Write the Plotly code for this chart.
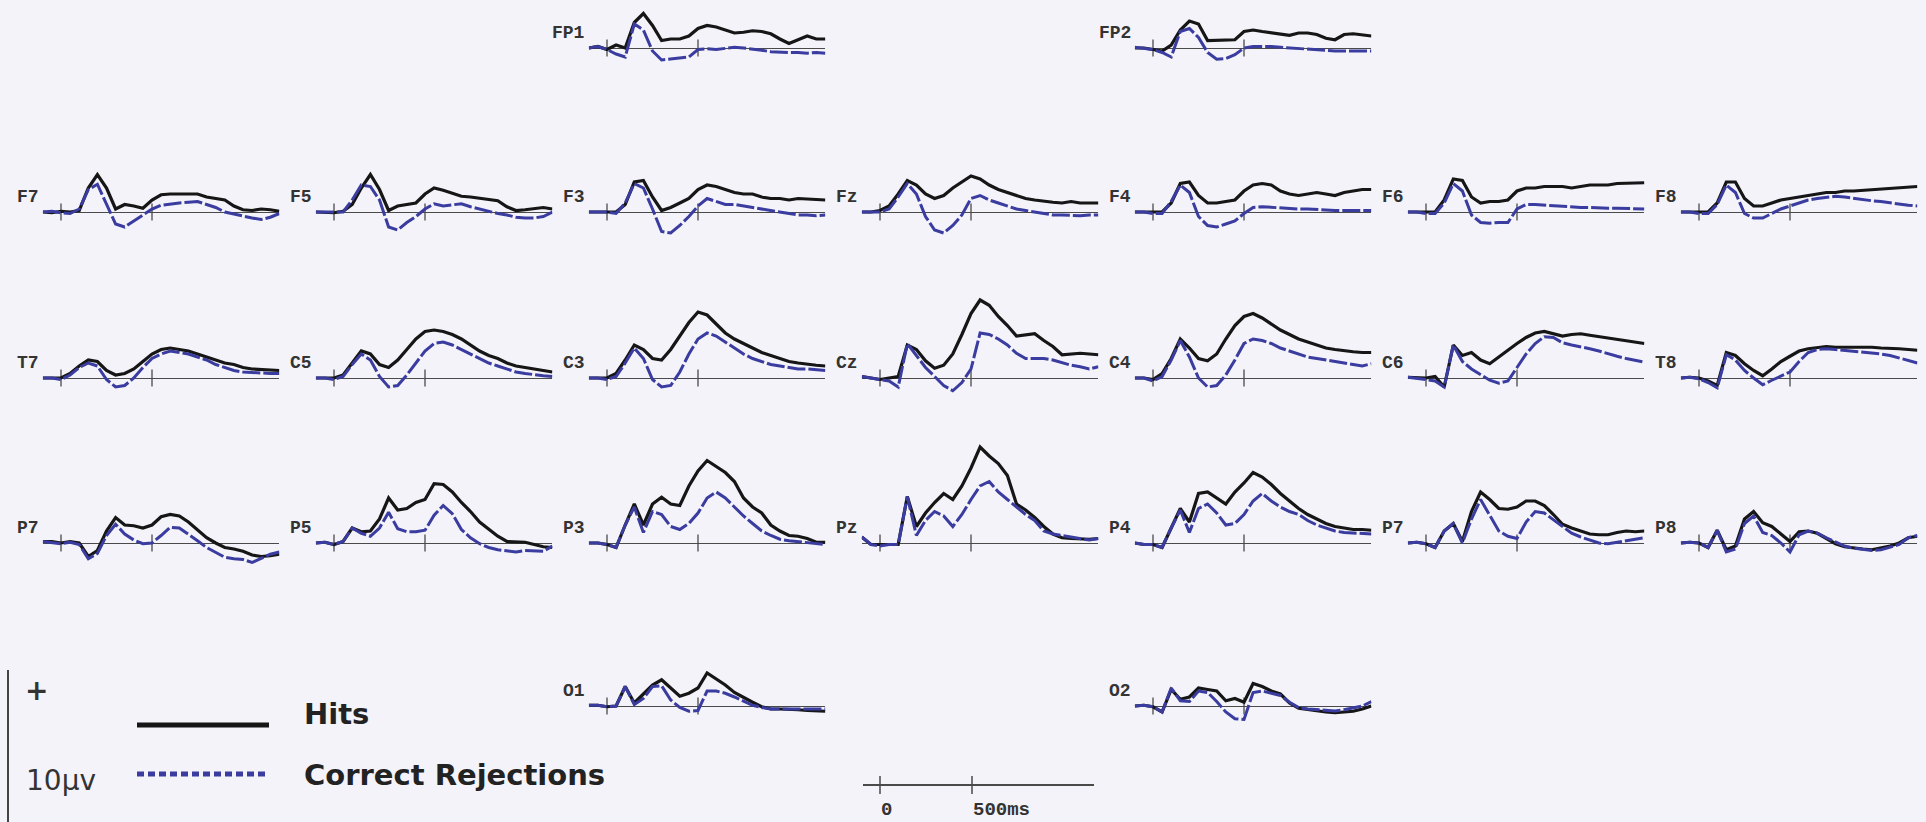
import plotly.graph_objects as go

# ---------------------------------------------------------------------------
# Grand-average ERPs (µV) sampled every 50 ms, Hits vs Correct Rejections
# ---------------------------------------------------------------------------
TIME_MS = [-100, -50, 0, 50, 100, 150, 200, 250, 300, 350, 400, 450, 500, 550,
           600, 650, 700, 750, 800, 850, 900, 950, 1000, 1050, 1100, 1150, 1200]
TICK_MS = [0, 500]
SCALE_LABELS = ["0", "500ms"]

HITS_FP1 = [0, 0.1, -0.1, 0.2, 0.0, 1.7, 2.3, 1.5, 0.5, 0.6, 0.6, 0.8, 1.3, 1.5, 1.4, 1.2, 1.0, 1.05, 1.15, 1.1, 0.95, 0.6, 0.3, 0.55, 0.8, 0.6, 0.6]
CR_FP1 = [0, 0.1, -0.1, -0.4, -0.6, 1.6, 1.2, -0.2, -0.8, -0.75, -0.7, -0.6, -0.1, -0.05, -0.1, 0.0, 0.05, 0.0, -0.05, -0.15, -0.25, -0.3, -0.3, -0.3, -0.35, -0.3, -0.35]
HITS_FP2 = [0, 0, -0.1, -0.2, 0.2, 1.2, 1.8, 1.6, 0.5, 0.5, 0.5, 0.55, 1.1, 1.2, 1.1, 1.0, 0.9, 0.85, 1.0, 1.0, 0.9, 0.65, 0.55, 0.9, 0.95, 0.85, 0.8]
CR_FP2 = [0.05, 0, -0.1, -0.3, -0.6, 1.1, 1.3, 0.7, -0.3, -0.75, -0.7, -0.45, 0.0, 0.1, 0.12, 0.1, 0.05, 0.0, -0.05, -0.1, -0.15, -0.2, -0.2, -0.2, -0.2, -0.25, -0.2]

HITS_F7 = [0, -0.05, 0.05, 0.0, 0.1, 1.6, 2.5, 1.6, 0.2, 0.5, 0.4, 0.25, 0.8, 1.15, 1.2, 1.2, 1.2, 1.2, 1.0, 0.9, 0.8, 0.4, 0.15, 0.1, 0.2, 0.15, 0.05]
CR_F7 = [0, 0.05, -0.05, -0.1, 0.2, 1.5, 1.85, 0.5, -0.8, -1.0, -0.6, -0.2, 0.2, 0.45, 0.55, 0.6, 0.65, 0.7, 0.5, 0.3, 0.0, -0.15, -0.3, -0.4, -0.5, -0.35, -0.1]
HITS_F5 = [0, 0, -0.05, 0.05, 0.5, 1.6, 2.5, 1.5, 0.1, 0.4, 0.5, 0.6, 1.2, 1.6, 1.45, 1.25, 1.05, 1.0, 0.9, 0.85, 0.75, 0.35, 0.1, 0.15, 0.25, 0.3, 0.2]
CR_F5 = [0, 0, 0, 0.0, 0.8, 1.8, 1.7, 0.8, -1.0, -1.2, -0.7, -0.3, 0.2, 0.55, 0.4, 0.5, 0.55, 0.35, 0.2, 0.0, -0.1, -0.2, -0.35, -0.4, -0.4, -0.3, 0.0]
HITS_F3 = [0, 0, 0, 0, 0.5, 2.0, 2.1, 1.0, 0.1, 0.3, 0.6, 0.9, 1.5, 1.8, 1.7, 1.5, 1.3, 1.2, 1.2, 1.0, 0.9, 0.9, 0.8, 0.9, 0.85, 0.8, 0.8]
CR_F3 = [0, 0, 0, -0.1, 0.6, 1.9, 1.6, 0.2, -1.3, -1.4, -0.9, -0.3, 0.4, 0.9, 0.7, 0.5, 0.5, 0.4, 0.3, 0.2, 0.1, 0.0, -0.1, -0.2, -0.2, -0.25, -0.2]
HITS_FZ = [0, 0, 0.1, 0.4, 1.2, 2.1, 1.8, 1.2, 0.9, 1.1, 1.6, 2.0, 2.4, 2.2, 1.8, 1.5, 1.3, 1.1, 0.9, 0.8, 0.7, 0.65, 0.6, 0.7, 0.6, 0.6, 0.6]
CR_FZ = [0, 0, 0, 0.2, 1.0, 1.9, 1.2, -0.3, -1.2, -1.4, -0.9, -0.2, 0.9, 1.1, 0.8, 0.6, 0.4, 0.2, 0.1, 0.0, -0.1, -0.2, -0.2, -0.25, -0.25, -0.2, -0.2]
HITS_F4 = [0, 0, 0, 0, 0.6, 1.9, 2.0, 1.1, 0.6, 0.6, 0.7, 0.8, 1.4, 1.8, 1.9, 1.8, 1.4, 1.2, 1.1, 1.2, 1.3, 1.2, 1.1, 1.3, 1.4, 1.5, 1.5]
CR_F4 = [0, 0, -0.1, -0.1, 0.7, 1.8, 1.3, -0.3, -0.9, -1.0, -0.8, -0.6, -0.1, 0.3, 0.35, 0.3, 0.3, 0.25, 0.2, 0.2, 0.15, 0.15, 0.1, 0.1, 0.1, 0.1, 0.1]
HITS_F6 = [0, 0, 0, 0, 0.8, 2.2, 2.1, 1.0, 0.6, 0.7, 0.7, 0.8, 1.4, 1.6, 1.6, 1.7, 1.7, 1.7, 1.6, 1.7, 1.8, 1.8, 1.8, 1.9, 1.9, 1.9, 1.95]
CR_F6 = [0, 0, -0.1, -0.1, 0.6, 1.9, 1.4, -0.2, -0.7, -0.75, -0.7, -0.7, 0.2, 0.5, 0.5, 0.45, 0.4, 0.4, 0.35, 0.3, 0.3, 0.25, 0.25, 0.25, 0.25, 0.2, 0.2]
HITS_F8 = [0, 0, 0, 0, 0.6, 2.0, 2.0, 0.9, 0.4, 0.4, 0.6, 0.8, 0.9, 1.0, 1.1, 1.2, 1.3, 1.3, 1.4, 1.4, 1.45, 1.5, 1.5, 1.6, 1.65, 1.7, 1.7]
CR_F8 = [0, 0, -0.1, -0.1, 0.5, 1.8, 1.3, -0.1, -0.4, -0.4, -0.1, 0.2, 0.4, 0.6, 0.8, 0.9, 1.0, 1.05, 1.0, 0.9, 0.8, 0.75, 0.7, 0.6, 0.5, 0.45, 0.4]

HITS_T7 = [0, 0, 0, 0.3, 0.8, 1.2, 1.1, 0.5, 0.2, 0.3, 0.6, 1.1, 1.6, 1.9, 2.0, 1.9, 1.8, 1.6, 1.4, 1.2, 1.0, 0.9, 0.7, 0.6, 0.55, 0.5, 0.5]
CR_T7 = [0, 0, -0.1, 0.2, 0.7, 1.0, 0.8, -0.1, -0.6, -0.5, 0.0, 0.7, 1.3, 1.6, 1.8, 1.7, 1.6, 1.4, 1.2, 0.9, 0.7, 0.5, 0.4, 0.35, 0.3, 0.3, 0.3]
HITS_C5 = [0, 0, 0, 0.2, 1.0, 1.8, 1.6, 0.9, 0.7, 1.2, 1.9, 2.6, 3.1, 3.2, 3.1, 2.9, 2.6, 2.2, 1.8, 1.5, 1.3, 1.0, 0.8, 0.7, 0.6, 0.5, 0.4]
CR_C5 = [0, 0, -0.1, 0.1, 0.9, 1.6, 1.2, 0.1, -0.6, -0.5, 0.2, 1.0, 1.8, 2.3, 2.4, 2.2, 1.9, 1.6, 1.3, 1.0, 0.8, 0.6, 0.4, 0.3, 0.2, 0.15, 0.1]
HITS_C3 = [0, 0, 0, 0.3, 1.2, 2.2, 1.9, 1.3, 1.2, 1.9, 2.8, 3.7, 4.4, 4.2, 3.6, 3.0, 2.6, 2.3, 2.0, 1.7, 1.5, 1.3, 1.1, 1.0, 0.9, 0.85, 0.8]
CR_C3 = [0, 0, -0.1, 0.1, 1.0, 2.0, 1.3, -0.1, -0.6, -0.5, 0.4, 1.6, 2.6, 3.0, 2.8, 2.4, 2.0, 1.6, 1.3, 1.1, 0.9, 0.8, 0.7, 0.6, 0.6, 0.55, 0.5]
HITS_CZ = [0.1, 0.0, -0.1, 0.0, 0.1, 2.2, 1.9, 1.15, 0.65, 0.85, 1.6, 2.9, 4.3, 5.2, 4.85, 4.1, 3.5, 2.8, 2.85, 2.95, 2.5, 2.1, 1.55, 1.6, 1.65, 1.6, 1.55]
CR_CZ = [0.1, 0.0, -0.1, -0.2, -0.6, 2.3, 1.5, 0.7, 0.1, -0.5, -0.85, -0.3, 0.6, 3.0, 2.9, 2.6, 2.2, 1.65, 1.3, 1.3, 1.3, 1.2, 1.0, 0.85, 0.75, 0.6, 0.75]
HITS_C4 = [0, 0, -0.1, 0.3, 1.3, 2.6, 2.0, 1.3, 1.15, 1.6, 2.6, 3.5, 4.1, 4.3, 4.0, 3.6, 3.2, 2.9, 2.6, 2.4, 2.2, 2.0, 1.9, 1.8, 1.75, 1.7, 1.7]
CR_C4 = [0, 0, -0.2, 0.1, 1.2, 2.5, 1.4, 0.0, -0.6, -0.5, 0.2, 1.2, 2.3, 2.6, 2.5, 2.3, 2.0, 1.8, 1.6, 1.4, 1.3, 1.2, 1.1, 1.0, 0.9, 0.8, 0.95]
HITS_C6 = [0.05, 0.05, 0.0, 0.1, -0.6, 2.2, 1.5, 1.7, 1.2, 0.95, 1.4, 1.9, 2.3, 2.7, 3.0, 3.1, 2.95, 2.8, 2.9, 2.95, 2.85, 2.75, 2.7, 2.6, 2.5, 2.4, 2.3]
CR_C6 = [0.05, 0.0, -0.1, -0.2, -0.6, 2.2, 1.1, 0.6, 0.2, -0.15, -0.35, -0.2, 0.7, 1.6, 2.3, 2.75, 2.7, 2.35, 2.2, 2.1, 1.95, 1.8, 1.6, 1.45, 1.3, 1.15, 1.05]
HITS_T8 = [0.0, 0.05, 0.0, -0.2, -0.5, 1.7, 1.5, 0.95, 0.5, 0.15, 0.6, 1.1, 1.45, 1.8, 1.95, 2.05, 2.1, 2.05, 2.05, 2.1, 2.1, 2.05, 2.0, 2.0, 1.95, 1.9, 1.85]
CR_T8 = [0.0, 0.05, -0.05, -0.3, -0.65, 1.55, 1.2, 0.5, 0.0, -0.45, -0.15, 0.15, 0.4, 1.1, 1.7, 1.9, 1.95, 1.9, 1.85, 1.8, 1.75, 1.7, 1.6, 1.5, 1.35, 1.15, 1.0]

HITS_P7 = [0.1, 0.1, 0.0, 0.1, 0.0, -0.9, -0.5, 0.8, 1.7, 1.2, 1.15, 1.0, 1.2, 1.75, 1.9, 1.8, 1.4, 0.9, 0.35, 0.0, -0.3, -0.4, -0.55, -0.8, -0.9, -0.85, -0.75]
CR_P7 = [0.1, 0.05, -0.05, 0.05, -0.1, -1.05, -0.7, 0.5, 1.25, 0.6, 0.2, -0.05, 0.0, 0.5, 1.05, 1.0, 0.6, 0.15, -0.3, -0.65, -0.95, -1.05, -1.1, -1.3, -1.0, -0.75, -0.6]
HITS_P5 = [0, 0.05, -0.1, 0.1, 1.0, 0.75, 0.8, 1.6, 3.0, 2.2, 2.3, 2.7, 2.9, 3.95, 3.9, 3.4, 2.7, 2.1, 1.4, 0.9, 0.45, 0.1, 0.05, 0.05, -0.1, -0.25, -0.3]
CR_P5 = [0, 0.05, -0.1, 0.1, 1.0, 0.65, 0.45, 1.0, 2.05, 0.95, 0.75, 0.75, 0.85, 1.85, 2.5, 1.95, 0.9, 0.35, -0.05, -0.3, -0.45, -0.55, -0.6, -0.5, -0.55, -0.55, -0.2]
HITS_P3 = [0, 0.0, -0.1, -0.3, 1.2, 2.6, 1.2, 2.6, 3.05, 2.6, 2.5, 3.8, 4.8, 5.5, 5.1, 4.7, 4.1, 3.0, 2.4, 2.0, 1.2, 0.8, 0.5, 0.45, 0.3, 0.05, 0.05]
CR_P3 = [0, 0.0, -0.1, -0.3, 1.2, 2.4, 0.7, 2.1, 1.9, 1.1, 0.9, 1.3, 2.0, 3.0, 3.4, 3.0, 2.4, 1.8, 1.3, 0.8, 0.5, 0.25, 0.15, 0.1, 0.05, -0.05, -0.1]
HITS_PZ = [0.4, -0.1, -0.1, -0.1, -0.1, 3.1, 1.1, 2.0, 2.7, 3.3, 2.9, 3.8, 5.0, 6.4, 5.8, 5.3, 4.5, 2.6, 2.2, 1.7, 1.1, 0.6, 0.35, 0.3, 0.25, 0.25, 0.3]
CR_PZ = [0.4, -0.1, -0.2, -0.1, -0.1, 3.1, 0.5, 1.5, 2.1, 1.8, 1.1, 1.9, 2.9, 3.8, 4.1, 3.4, 2.9, 2.4, 1.9, 1.5, 0.8, 0.6, 0.5, 0.35, 0.25, 0.2, 0.3]
HITS_P4 = [0.0, -0.1, -0.1, -0.3, 1.0, 2.3, 1.4, 3.3, 3.4, 3.0, 2.6, 3.4, 4.0, 4.7, 4.4, 3.9, 3.3, 2.8, 2.3, 1.9, 1.6, 1.3, 1.1, 1.0, 0.9, 0.9, 0.85]
CR_P4 = [0.0, -0.1, -0.1, -0.3, 1.0, 2.2, 0.7, 2.3, 2.6, 2.0, 1.2, 1.3, 1.9, 2.8, 3.3, 2.8, 2.4, 2.1, 1.9, 1.5, 1.2, 1.0, 0.8, 0.7, 0.65, 0.6, 0.6]
HITS_P6 = [0.0, 0.05, -0.05, -0.3, 0.8, 1.3, 0.1, 2.1, 3.4, 2.9, 2.3, 2.25, 2.4, 2.8, 2.8, 2.5, 1.9, 1.25, 1.0, 0.8, 0.6, 0.55, 0.55, 0.7, 0.8, 0.75, 0.8]
CR_P6 = [0.0, 0.05, -0.05, -0.3, 0.8, 1.3, 0.0, 1.6, 2.9, 1.8, 0.8, 0.45, 0.3, 1.4, 2.1, 2.0, 1.55, 1.05, 0.65, 0.4, 0.2, 0.0, -0.05, 0.05, 0.2, 0.3, 0.35]
HITS_P8 = [0.0, 0.05, 0.0, -0.3, 0.85, -0.45, -0.2, 1.6, 2.1, 1.35, 1.1, 0.6, 0.1, 0.75, 0.8, 0.65, 0.3, -0.05, -0.25, -0.35, -0.4, -0.45, -0.35, -0.2, 0.0, 0.35, 0.45]
CR_P8 = [0.0, 0.05, 0.0, -0.3, 0.85, -0.6, -0.4, 1.3, 1.8, 0.7, 0.5, 0.0, -0.6, 0.55, 0.8, 0.65, 0.35, 0.05, -0.2, -0.35, -0.45, -0.5, -0.45, -0.3, -0.1, 0.35, 0.5]

HITS_O1 = [0.05, 0.05, -0.05, 0.0, 1.3, 0.2, 0.8, 1.4, 1.75, 1.2, 0.65, 0.85, 1.2, 2.2, 1.8, 1.4, 0.9, 0.55, 0.25, -0.05, -0.2, -0.2, -0.2, -0.25, -0.3, -0.3, -0.35]
CR_O1 = [0.05, 0.05, -0.05, 0.0, 1.3, 0.1, 0.5, 1.3, 1.35, 0.4, -0.1, -0.35, -0.3, 1.0, 1.0, 0.85, 0.6, 0.3, 0.05, -0.1, -0.2, -0.2, -0.2, -0.2, -0.2, -0.2, -0.2]
HITS_O2 = [0.0, 0.05, -0.05, -0.4, 1.1, 0.45, 0.6, 1.2, 1.1, 1.0, 0.35, 0.5, 0.25, 1.5, 1.3, 1.0, 0.8, 0.2, -0.15, -0.25, -0.35, -0.4, -0.45, -0.4, -0.35, -0.2, 0.0]
CR_O2 = [0.0, 0.05, -0.05, -0.4, 1.2, 0.35, 0.3, 1.0, 0.9, 0.3, -0.4, -0.85, -0.9, 0.9, 1.0, 0.85, 0.7, 0.25, -0.1, -0.2, -0.25, -0.3, -0.33, -0.25, -0.15, 0.0, 0.3]

# (label, hits, correct rejections, grid row, grid column)
PANELS = [
    ("FP1", HITS_FP1, CR_FP1, 0, 2), ("FP2", HITS_FP2, CR_FP2, 0, 4),
    ("F7", HITS_F7, CR_F7, 1, 0), ("F5", HITS_F5, CR_F5, 1, 1),
    ("F3", HITS_F3, CR_F3, 1, 2), ("Fz", HITS_FZ, CR_FZ, 1, 3),
    ("F4", HITS_F4, CR_F4, 1, 4), ("F6", HITS_F6, CR_F6, 1, 5),
    ("F8", HITS_F8, CR_F8, 1, 6),
    ("T7", HITS_T7, CR_T7, 2, 0), ("C5", HITS_C5, CR_C5, 2, 1),
    ("C3", HITS_C3, CR_C3, 2, 2), ("Cz", HITS_CZ, CR_CZ, 2, 3),
    ("C4", HITS_C4, CR_C4, 2, 4), ("C6", HITS_C6, CR_C6, 2, 5),
    ("T8", HITS_T8, CR_T8, 2, 6),
    ("P7", HITS_P7, CR_P7, 3, 0), ("P5", HITS_P5, CR_P5, 3, 1),
    ("P3", HITS_P3, CR_P3, 3, 2), ("Pz", HITS_PZ, CR_PZ, 3, 3),
    ("P4", HITS_P4, CR_P4, 3, 4), ("P7", HITS_P6, CR_P6, 3, 5),
    ("P8", HITS_P8, CR_P8, 3, 6),
    ("O1", HITS_O1, CR_O1, 4, 2), ("O2", HITS_O2, CR_O2, 4, 4),
]

# ---------------------------------------------------------------------------
# Page geometry (pixels) and styling
# ---------------------------------------------------------------------------
W, H = 1926, 822
PX_PER_MS = 0.182
PX_PER_UV = 15.0
COL_ZERO_PX = [61 + 273 * c for c in range(7)]
ROW_BASE_PX = [48, 212, 378, 543, 706]

BG = "#f3f3f9"
HIT_COLOR = "#161616"
CR_COLOR = "#3a3ca0"
AXIS_COLOR = "#4a4a4a"
LABEL_FONT = dict(family="Liberation Mono", size=18, color="#333333")
LEGEND_FONT = "DejaVu Sans"


def px_x(p):
    return p / W


def px_y(p):
    return 1 - p / H


def axis_names(i):
    suffix = "" if i == 1 else str(i)
    return "x" + suffix, "y" + suffix, "xaxis" + suffix, "yaxis" + suffix


fig = go.Figure()
axes = {}
annotations = []
t_min, t_max = TIME_MS[0], TIME_MS[-1]

for i, (label, hits, cr, row, col) in enumerate(PANELS, start=1):
    xa, ya, xkey, ykey = axis_names(i)
    zero = COL_ZERO_PX[col]
    base = ROW_BASE_PX[row]
    hi = min(7.0, base / PX_PER_UV)
    lo = -3.0
    axes[xkey] = dict(domain=[px_x(zero + t_min * PX_PER_MS), px_x(zero + t_max * PX_PER_MS)],
                      range=[t_min, t_max], anchor=ya, visible=False)
    axes[ykey] = dict(domain=[px_y(base - lo * PX_PER_UV), px_y(base - hi * PX_PER_UV)],
                      range=[lo, hi], anchor=xa, showgrid=False, showticklabels=False,
                      ticks="", showline=False, zeroline=True,
                      zerolinecolor=AXIS_COLOR, zerolinewidth=1.3)

    fig.add_trace(go.Scatter(x=TICK_MS, y=[0] * len(TICK_MS), xaxis=xa, yaxis=ya,
                             mode="markers", hoverinfo="skip", showlegend=False,
                             marker=dict(symbol="line-ns", size=12,
                                         line=dict(width=1.3, color=AXIS_COLOR))))
    fig.add_trace(go.Scatter(x=TIME_MS, y=hits, xaxis=xa, yaxis=ya, mode="lines",
                             name="Hits", showlegend=False,
                             line=dict(color=HIT_COLOR, width=3.2)))
    fig.add_trace(go.Scatter(x=TIME_MS, y=cr, xaxis=xa, yaxis=ya, mode="lines",
                             name="Correct Rejections", showlegend=False,
                             line=dict(color=CR_COLOR, width=3, dash="18px,3px")))

    annotations.append(dict(text="<b>%s</b>" % label, xref=xa + " domain", yref=ya,
                            x=-0.008, y=1.0, xanchor="right", yanchor="middle",
                            showarrow=False, font=LABEL_FONT))

# time scale bar
i = len(PANELS) + 1
xa, ya, xkey, ykey = axis_names(i)
SCALE_ZERO_PX, SCALE_BASE_PX, SCALE_PX_PER_MS = 880, 785, 0.184
scale_range = [-95, 1165]
axes[xkey] = dict(domain=[px_x(SCALE_ZERO_PX + scale_range[0] * SCALE_PX_PER_MS),
                          px_x(SCALE_ZERO_PX + scale_range[1] * SCALE_PX_PER_MS)],
                  range=scale_range, anchor=ya, visible=False)
axes[ykey] = dict(domain=[px_y(SCALE_BASE_PX + 15), px_y(SCALE_BASE_PX - 15)],
                  range=[-1, 1], anchor=xa, showgrid=False, showticklabels=False,
                  ticks="", showline=False, zeroline=True,
                  zerolinecolor=AXIS_COLOR, zerolinewidth=1.5)
fig.add_trace(go.Scatter(x=TICK_MS, y=[0] * len(TICK_MS), xaxis=xa, yaxis=ya,
                         mode="markers", hoverinfo="skip", showlegend=False,
                         marker=dict(symbol="line-ns", size=13,
                                     line=dict(width=1.5, color=AXIS_COLOR))))
for t, txt in zip(TICK_MS, SCALE_LABELS):
    annotations.append(dict(text="<b>%s</b>" % txt, xref=xa, yref="paper", x=t,
                            y=px_y(810), xanchor="left", yanchor="middle", xshift=-1,
                            showarrow=False,
                            font=dict(family="Liberation Mono", size=19, color="#333333")))

# amplitude bar and condition key
shapes = [
    dict(type="line", xref="paper", yref="paper", x0=px_x(8), x1=px_x(8),
         y0=px_y(670), y1=px_y(822), line=dict(color="#444444", width=2)),
    dict(type="line", xref="paper", yref="paper", x0=px_x(137), x1=px_x(269),
         y0=px_y(725), y1=px_y(725), line=dict(color=HIT_COLOR, width=5)),
    dict(type="line", xref="paper", yref="paper", x0=px_x(137), x1=px_x(269),
         y0=px_y(774), y1=px_y(774), line=dict(color=CR_COLOR, width=5, dash="7px,4px")),
]
annotations += [
    dict(text="<b>+</b>", xref="paper", yref="paper", x=px_x(36), y=px_y(690),
         xanchor="center", yanchor="middle", showarrow=False,
         font=dict(family=LEGEND_FONT, size=28, color="#333333")),
    dict(text="10µv", xref="paper", yref="paper", x=px_x(24), y=px_y(780),
         xanchor="left", yanchor="middle", showarrow=False,
         font=dict(family=LEGEND_FONT, size=28, color="#333333")),
    dict(text="<b>Hits</b>", xref="paper", yref="paper", x=px_x(302), y=px_y(714),
         xanchor="left", yanchor="middle", showarrow=False,
         font=dict(family=LEGEND_FONT, size=29, color="#222222")),
    dict(text="<b>Correct Rejections</b>", xref="paper", yref="paper", x=px_x(302),
         y=px_y(775), xanchor="left", yanchor="middle", showarrow=False,
         font=dict(family=LEGEND_FONT, size=29, color="#222222")),
]

fig.update_layout(width=W, height=H, margin=dict(l=0, r=0, t=0, b=0),
                  paper_bgcolor=BG, plot_bgcolor=BG, showlegend=False,
                  annotations=annotations, shapes=shapes, **axes)

fig.write_html("out.html")
